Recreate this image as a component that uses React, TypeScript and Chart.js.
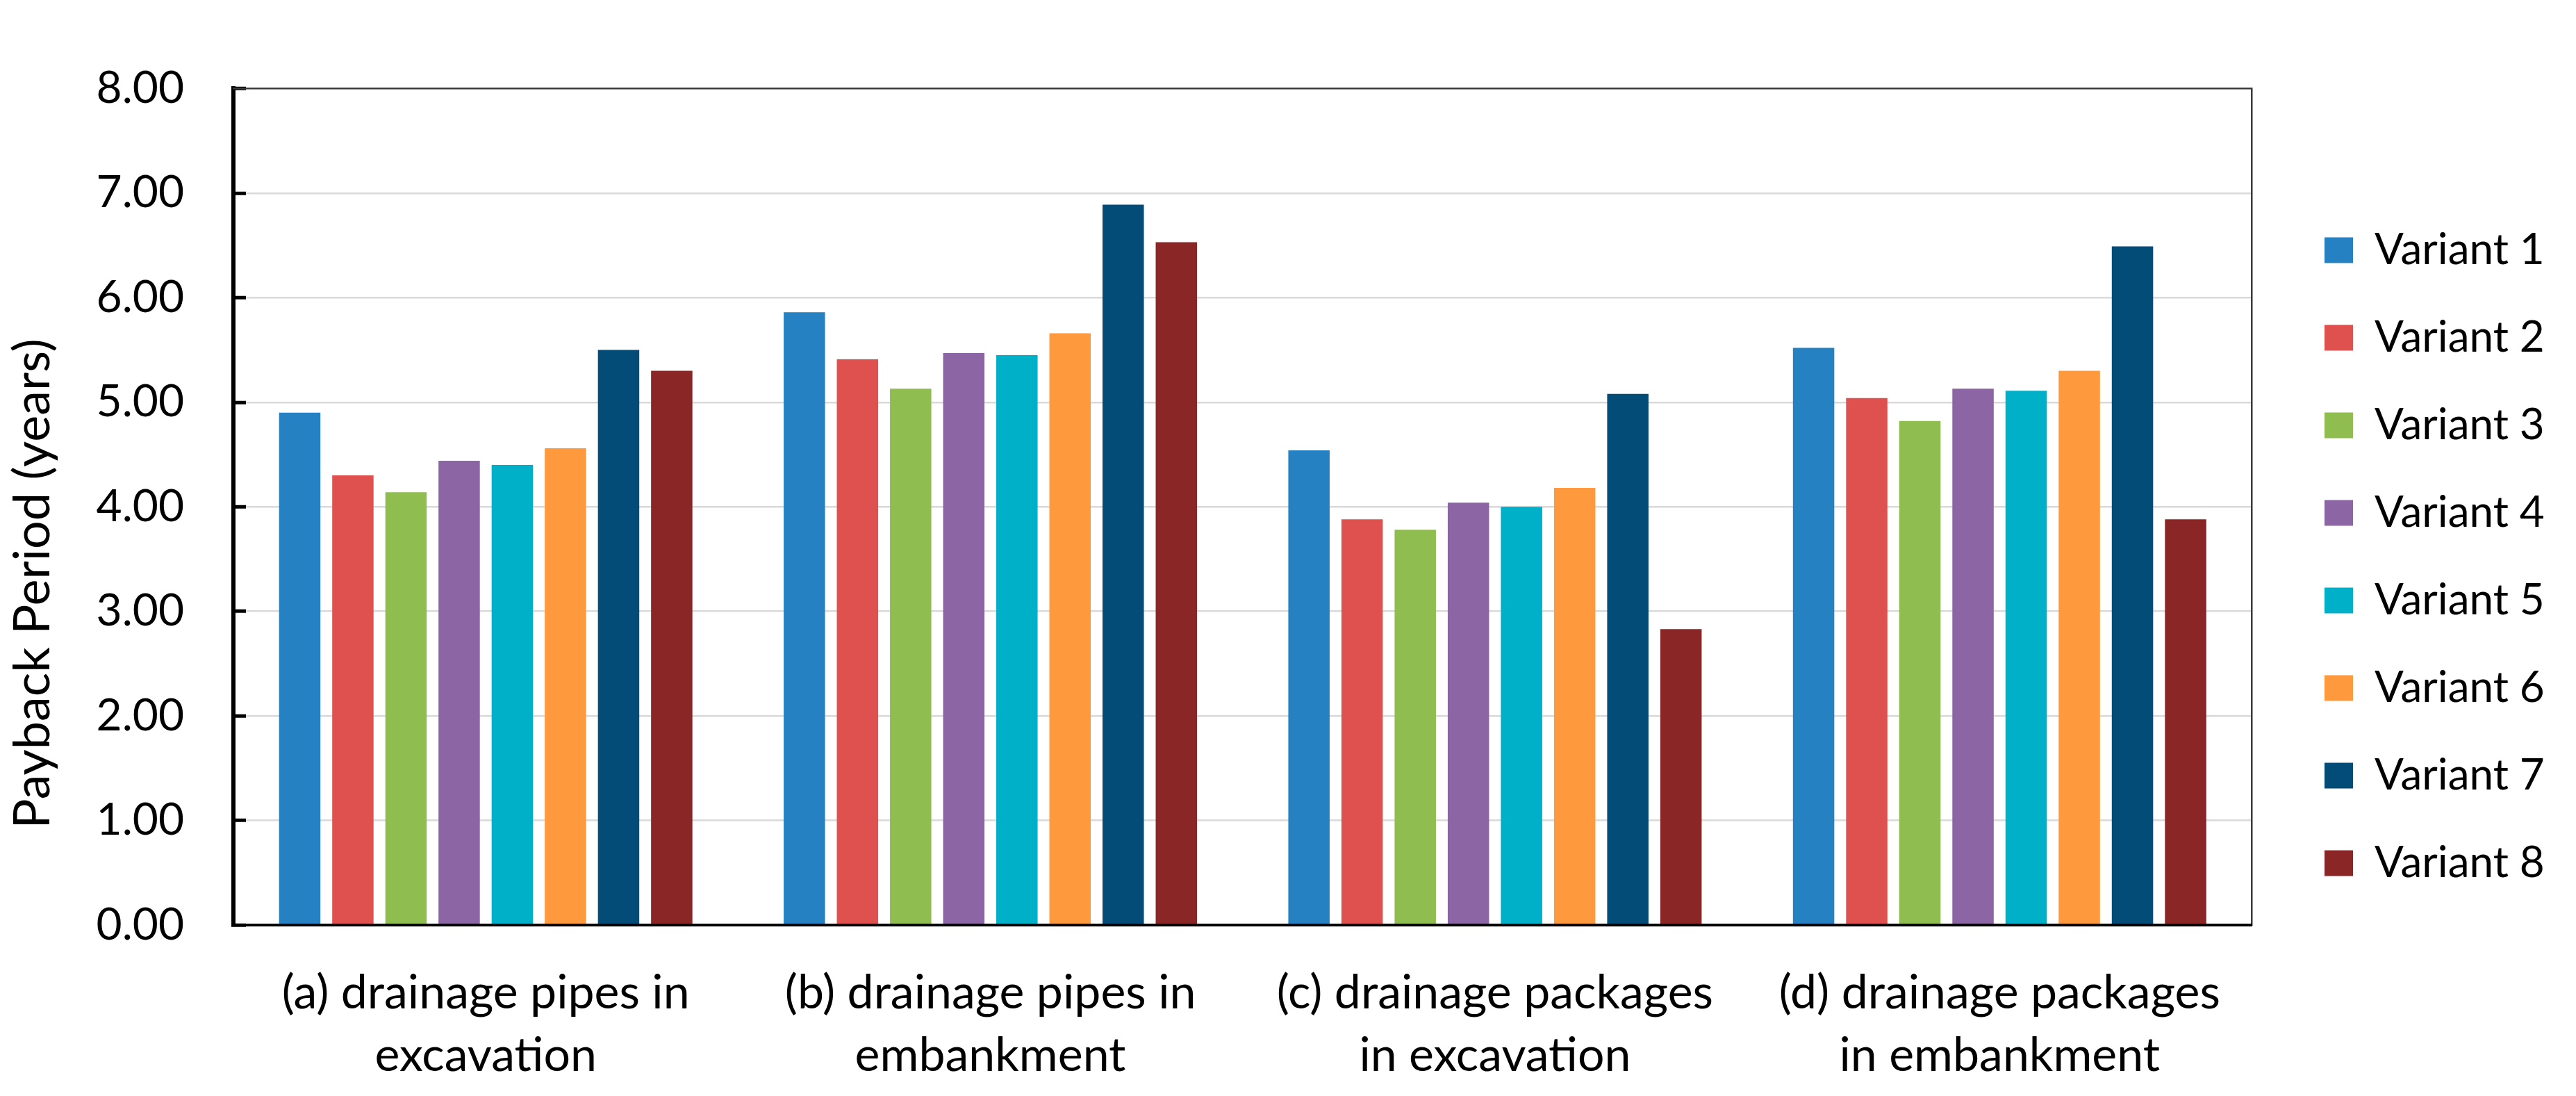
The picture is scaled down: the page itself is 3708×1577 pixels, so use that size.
import React, { useEffect, useRef } from 'react';
import { Chart, registerables } from 'chart.js';

Chart.register(...registerables);

const categories: string[][] = [
  ['(a) drainage pipes in', 'excavation'],
  ['(b) drainage pipes in', 'embankment'],
  ['(c) drainage packages', 'in excavation'],
  ['(d) drainage packages', 'in embankment'],
];

const variantNames = ['Variant 1', 'Variant 2', 'Variant 3', 'Variant 4', 'Variant 5', 'Variant 6', 'Variant 7', 'Variant 8'];

const variant1 = [4.90, 5.86, 4.54, 5.52];
const variant2 = [4.30, 5.41, 3.88, 5.04];
const variant3 = [4.14, 5.13, 3.78, 4.82];
const variant4 = [4.44, 5.47, 4.04, 5.13];
const variant5 = [4.40, 5.45, 4.00, 5.11];
const variant6 = [4.56, 5.66, 4.18, 5.30];
const variant7 = [5.50, 6.89, 5.08, 6.49];
const variant8 = [5.30, 6.53, 2.83, 3.88];

const variantValues = [variant1, variant2, variant3, variant4, variant5, variant6, variant7, variant8];
const variantColors = ['#2581C2', '#DF514F', '#8FBD50', '#8C65A4', '#00AFC8', '#FF993E', '#034C78', '#8A2626'];

const yAxisTitle = 'Payback Period (years)';
const yMin = 0;
const yMax = 8;
const yStep = 1;

const FONT = 'Lato';
const LEGEND_SIZE = 62;
const LEGEND_BOX_W = 41;
const LEGEND_PAD = 64;

export default function App() {
  const ref = useRef<HTMLCanvasElement>(null);

  useEffect(() => {
    if (!ref.current) return;

    // measure legend text so that the legend box lands where intended
    const mctx = document.createElement('canvas').getContext('2d') as CanvasRenderingContext2D;
    mctx.font = `${LEGEND_SIZE}px ${FONT}`;
    const tw = Math.max(...variantNames.map((n) => mctx.measureText(n).width));
    const legendWidth = 10 + LEGEND_PAD + LEGEND_BOX_W + LEGEND_SIZE / 2 + tw;
    const legendLeft = 3282;
    const rightPad = Math.max(0, 3708 - legendLeft - legendWidth);

    const chart = new Chart(ref.current, {
      type: 'bar',
      data: {
        labels: categories,
        datasets: variantNames.map((name, i) => ({
          label: name,
          data: variantValues[i],
          backgroundColor: variantColors[i],
          borderWidth: 0,
          categoryPercentage: 0.8425,
          barPercentage: 0.778,
        })),
      },
      options: {
        responsive: false,
        animation: false,
        layout: { padding: { top: 25, bottom: 0, left: 0, right: rightPad } },
        plugins: {
          tooltip: { enabled: false },
          title: { display: false },
          legend: {
            position: 'right',
            align: 'center',
            labels: {
              boxWidth: LEGEND_BOX_W,
              boxHeight: 37,
              padding: LEGEND_PAD,
              color: '#000',
              font: { family: FONT, size: LEGEND_SIZE },
            },
          },
        },
        scales: {
          x: {
            type: 'category',
            position: 'bottom',
            grid: { display: false, drawTicks: false },
            border: { display: true, color: '#000', width: 4, z: 1 },
            ticks: {
              color: '#000',
              padding: 53,
              autoSkip: false,
              maxRotation: 0,
              minRotation: 0,
              font: { family: FONT, size: 68, lineHeight: 1.324 },
            },
            afterFit: (s: any) => { s.height = 246; },
          },
          xTop: {
            type: 'category',
            position: 'top',
            grid: { display: false, drawTicks: false },
            border: { display: true, color: '#3a3a3a', width: 2.5, z: 1 },
            ticks: { display: false },
            afterFit: (s: any) => { s.height = 53; },
          },
          y: {
            type: 'linear',
            position: 'left',
            min: yMin,
            max: yMax,
            grid: {
              color: '#d9d9d9',
              lineWidth: 2.5,
              drawTicks: true,
              tickLength: -18,
              tickColor: '#000',
              tickWidth: 5,
            },
            border: { display: true, color: '#000', width: 6 },
            ticks: {
              stepSize: yStep,
              color: '#000',
              padding: 89,
              font: { family: FONT, size: 64 },
              callback: (v: any) => Number(v).toFixed(2),
            },
            title: {
              display: true,
              text: yAxisTitle + ' '.repeat(12),
              color: '#000',
              font: { family: FONT, size: 72 },
              padding: { top: 5, bottom: 0 },
            },
            afterFit: (s: any) => { s.width = 336; },
          },
          yRight: {
            type: 'linear',
            position: 'right',
            min: yMin,
            max: yMax,
            grid: { display: false, drawTicks: false },
            border: { display: true, color: '#3a3a3a', width: 2.5 },
            ticks: { display: false },
            afterFit: (s: any) => { s.width = 40.5; },
          },
        },
      } as any,
    });
    return () => chart.destroy();
  }, []);

  return (
    <div style={{ position: 'absolute', left: 0, top: 0, width: 3708, height: 1577, background: '#fff' }}>
      <canvas ref={ref} width={3708} height={1577} style={{ display: 'block', width: 3708, height: 1577 }} />
    </div>
  );
}
